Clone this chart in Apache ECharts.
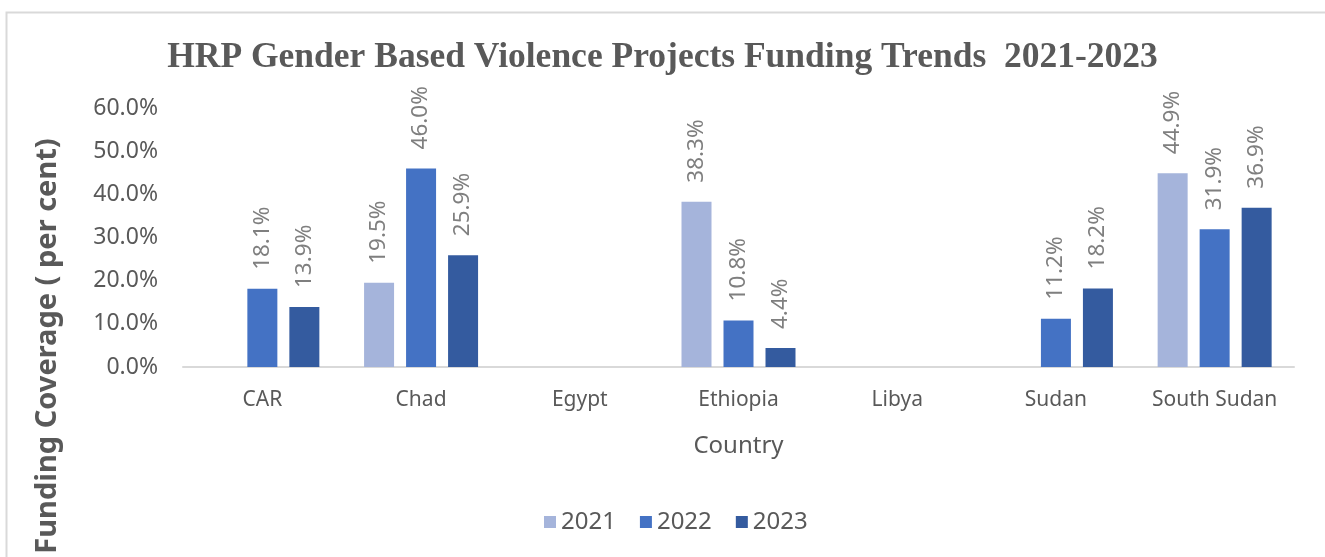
<!DOCTYPE html>
<html>
<head>
<meta charset="utf-8">
<script src="https://cdn.jsdelivr.net/npm/echarts@6/dist/echarts.min.js"></script>
<style>html,body{margin:0;padding:0;background:#fff;}#c{width:1325px;height:557px;}</style>
</head>
<body>
<div id="c"></div>
<script>
const categories = ['CAR', 'Chad', 'Egypt', 'Ethiopia', 'Libya', 'Sudan', 'South Sudan'];
const years = ['2021', '2022', '2023'];
const values2021 = [null, 19.5, null, 38.3, null, null, 44.9];
const values2022 = [18.1, 46.0, null, 10.8, null, 11.2, 31.9];
const values2023 = [13.9, 25.9, null, 4.4, null, 18.2, 36.9];
const yTicks = [0, 10, 20, 30, 40, 50, 60];
const colors = ['#A5B4DB', '#4472C4', '#345B9F'];

const seriesData = [values2021, values2022, values2023];
const chart = echarts.init(document.getElementById('c'), null, {renderer: 'canvas'});
const labelFont = '"Noto Sans", "Open Sans", sans-serif';

chart.setOption({
  animation: false,
  backgroundColor: '#ffffff',
  title: {
    text: 'HRP Gender Based Violence Projects Funding Trends  2021-2023',
    left: 'center',
    top: 35,
    textStyle: {fontFamily: '"Liberation Serif", "Times New Roman", serif', fontWeight: 'bold', fontSize: 35.5, color: '#595959'}
  },
  legend: {
    data: years,
    bottom: 18,
    left: 539,
    icon: 'rect',
    itemWidth: 12,
    itemHeight: 12,
    itemGap: 24,
    textStyle: {fontFamily: labelFont, fontSize: 24, color: '#595959'}
  },
  grid: {left: 183, right: 31, top: 108, bottom: 190, containLabel: false},
  xAxis: {
    type: 'category',
    data: categories,
    name: 'Country',
    nameLocation: 'middle',
    nameGap: 67,
    nameTextStyle: {fontFamily: labelFont, fontSize: 24, color: '#595959'},
    axisLine: {lineStyle: {color: '#D9D9D9', width: 2}},
    axisTick: {show: false},
    axisLabel: {interval: 0, fontFamily: labelFont, fontSize: 21, color: '#595959', margin: 23}
  },
  yAxis: {
    type: 'value',
    min: yTicks[0],
    max: yTicks[yTicks.length - 1],
    interval: 10,
    axisLine: {show: false},
    axisTick: {show: false},
    splitLine: {show: false},
    axisLabel: {fontFamily: labelFont, fontSize: 23, color: '#595959', margin: 25,
      formatter: v => v.toFixed(1) + '%'}
  },
  graphic: [
    {type: 'rect', left: 4, top: 10, shape: {width: 1340, height: 570}, style: {fill: 'none', stroke: '#D9D9D9', lineWidth: 2}, silent: true},
    {type: 'text', x: 48, y: 346, rotation: Math.PI / 2,
      style: {text: 'Funding Coverage ( per cent)', fontFamily: labelFont, fontWeight: 'bold', fontSize: 29, fill: '#595959', textAlign: 'center', textVerticalAlign: 'middle'}}
  ],
  series: years.map((y, i) => ({
    name: y,
    type: 'bar',
    data: seriesData[i],
    barWidth: 30,
    barGap: '40%',
    itemStyle: {color: colors[i]},
    label: {
      show: true,
      position: 'top',
      rotate: 90,
      align: 'left',
      verticalAlign: 'middle',
      distance: 19,
      fontFamily: labelFont,
      fontSize: 22.5,
      color: '#7F7F7F',
      formatter: p => p.value == null ? '' : p.value.toFixed(1) + '%'
    }
  }))
});
</script>
</body>
</html>
